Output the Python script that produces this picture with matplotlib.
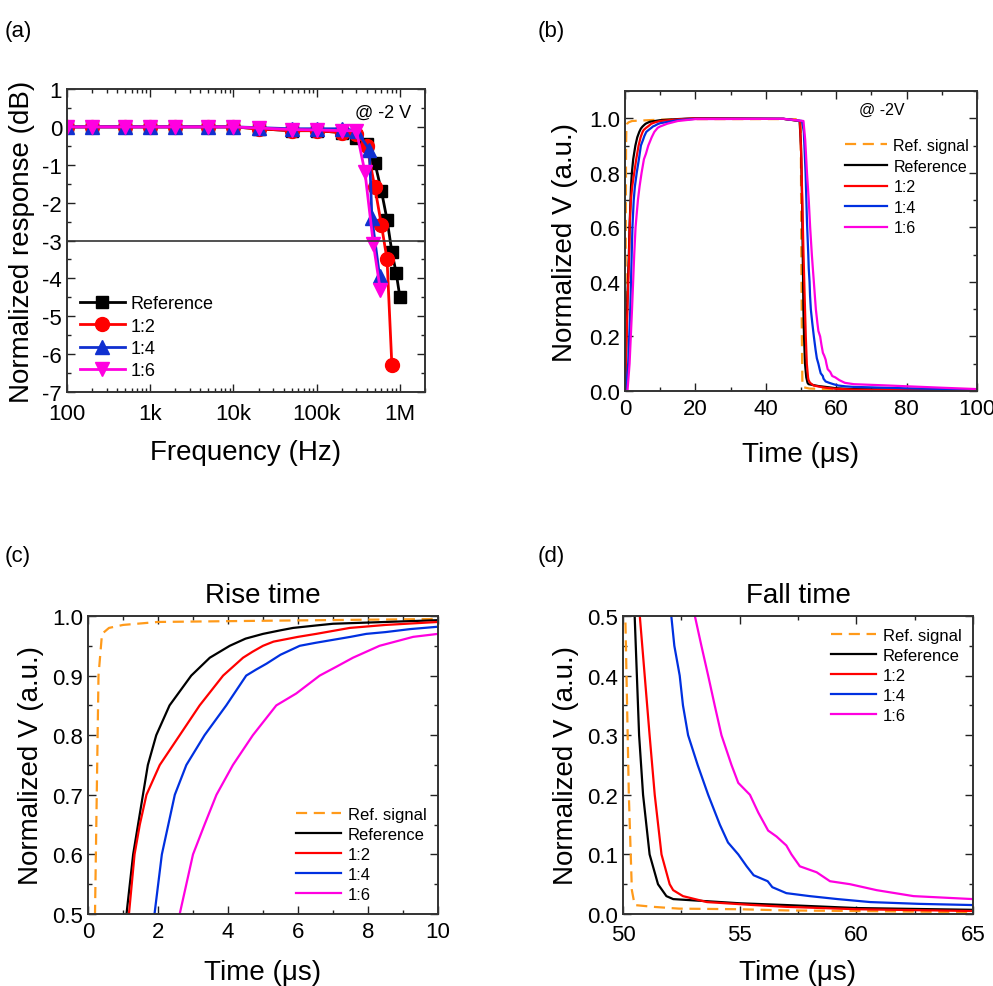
import matplotlib
matplotlib.use("Agg")
import matplotlib.pyplot as plt
from matplotlib.ticker import MultipleLocator, NullFormatter, LogLocator

plt.rcParams['font.family'] = ['Liberation Sans', 'DejaVu Sans']
plt.rcParams['axes.unicode_minus'] = False

# ---------------- data: (a) frequency response ----------------
freq_ref = [100, 200, 500, 1e3, 2e3, 5e3, 1e4, 2e4, 5e4, 1e5, 2e5, 3e5, 4e5, 5e5, 6e5, 7e5, 8e5, 9e5, 1e6]
db_ref = [0.0, 0.0, 0.0, 0.0, 0.0, 0.0, 0.0, -0.05, -0.1, -0.1, -0.15, -0.3, -0.45, -0.95, -1.7, -2.45, -3.3, -3.85, -4.5]

freq_12 = [100, 200, 500, 1e3, 2e3, 5e3, 1e4, 2e4, 5e4, 1e5, 2e5, 3e5, 4e5, 5e5, 6e5, 7e5, 8e5]
db_12 = [0.0, 0.0, 0.0, 0.0, 0.0, 0.0, 0.0, -0.05, -0.1, -0.1, -0.15, -0.2, -0.5, -1.6, -2.6, -3.5, -6.3]

freq_14 = [100, 200, 500, 1e3, 2e3, 5e3, 1e4, 2e4, 5e4, 1e5, 2e5, 3e5, 4.3e5, 4.6e5, 5.7e5]
db_14 = [0.0, 0.0, 0.0, 0.0, 0.0, 0.0, 0.0, -0.02, -0.05, -0.05, -0.05, -0.1, -0.6, -2.4, -3.95]

freq_16 = [100, 200, 500, 1e3, 2e3, 5e3, 1e4, 2e4, 5e4, 1e5, 2e5, 3e5, 3.8e5, 4.8e5, 5.8e5]
db_16 = [0.0, 0.0, 0.0, 0.0, 0.0, 0.0, 0.0, -0.03, -0.07, -0.08, -0.1, -0.1, -1.2, -3.1, -4.3]

freq_ticks = [100, 1e3, 1e4, 1e5, 1e6]
freq_ticklabels = ['100', '1k', '10k', '100k', '1M']

# ---------------- data: (b)-(d) transient response ----------------
t_sig = [0, 0.15, 0.2, 0.3, 0.4, 0.6, 1.0, 2.0, 5.0, 10.0, 20, 49.9, 50.0, 50.1, 50.25, 50.38, 50.5, 51.3, 52.4, 55, 57, 60, 65, 80, 100]
v_sig = [0, 0.2, 0.5, 0.9, 0.97, 0.98, 0.985, 0.99, 0.992, 0.995, 0.997, 0.997, 0.8, 0.5, 0.2, 0.04, 0.015, 0.012, 0.009, 0.008, 0.006, 0.005, 0.003, 0.002, 0.001]

t_ref = [0, 0.3, 0.7, 1.1, 1.29, 1.57, 1.71, 1.95, 2.33, 2.95, 3.48, 4.05, 4.5, 5.0, 5.5, 5.86, 6.5, 7.0, 10, 15, 20, 45, 49.6, 50.0, 50.3, 50.5, 50.69, 50.86, 51.14, 51.5, 51.86, 52.15, 55, 57, 60, 65, 80, 100]
v_ref = [0, 0.15, 0.35, 0.5, 0.6, 0.7, 0.75, 0.8, 0.85, 0.9, 0.93, 0.95, 0.962, 0.97, 0.976, 0.98, 0.984, 0.987, 0.993, 0.997, 1.0, 0.998, 0.99, 0.9, 0.7, 0.5, 0.3, 0.2, 0.1, 0.05, 0.03, 0.025, 0.018, 0.015, 0.01, 0.007, 0.005, 0.003]

t_12 = [0, 0.3, 0.8, 1.17, 1.33, 1.48, 1.67, 2.05, 2.62, 3.19, 3.86, 4.43, 4.7, 5.0, 5.3, 6.0, 6.52, 7.0, 7.48, 8.5, 10, 15, 20, 45, 49.7, 50.1, 50.5, 50.72, 50.93, 51.14, 51.36, 51.65, 52.0, 52.15, 52.57, 53.6, 55.6, 57, 60, 65, 80, 100]
v_12 = [0, 0.12, 0.35, 0.5, 0.6, 0.65, 0.7, 0.75, 0.8, 0.85, 0.9, 0.93, 0.94, 0.95, 0.957, 0.965, 0.97, 0.975, 0.98, 0.985, 0.99, 0.996, 1.0, 0.998, 0.99, 0.85, 0.62, 0.5, 0.4, 0.3, 0.2, 0.1, 0.05, 0.04, 0.03, 0.02, 0.015, 0.012, 0.008, 0.005, 0.003, 0.002]

t_14 = [0, 0.3, 0.9, 1.5, 1.9, 2.11, 2.48, 2.81, 3.33, 3.95, 4.52, 4.8, 5.1, 5.5, 6.05, 6.5, 7.0, 7.5, 7.95, 8.5, 9.2, 10, 15, 20, 45, 50.3, 50.8, 51.3, 51.7, 52.07, 52.2, 52.43, 52.57, 52.79, 53.2, 53.65, 54.15, 54.5, 54.94, 55.3, 55.6, 56.2, 56.4, 57.0, 58.0, 59.2, 60.6, 62.7, 65, 80, 100]
v_14 = [0, 0.0, 0.1, 0.3, 0.5, 0.6, 0.7, 0.75, 0.8, 0.85, 0.9, 0.91, 0.92, 0.935, 0.95, 0.955, 0.96, 0.965, 0.97, 0.973, 0.978, 0.982, 0.993, 0.998, 0.998, 0.99, 0.95, 0.8, 0.62, 0.5, 0.45, 0.4, 0.35, 0.3, 0.25, 0.2, 0.15, 0.12, 0.1, 0.08, 0.065, 0.055, 0.045, 0.035, 0.03, 0.025, 0.02, 0.017, 0.015, 0.01, 0.005]

t_16 = [0, 0.7, 1.3, 2.0, 2.62, 3.0, 3.33, 3.67, 4.14, 4.71, 5.38, 5.95, 6.62, 7.1, 7.57, 8.33, 9.29, 10, 12, 15, 20, 45, 50.7, 51.2, 51.7, 52.2, 52.6, 53.08, 53.36, 53.65, 53.93, 54.22, 54.65, 54.94, 55.44, 55.8, 56.22, 56.58, 57.0, 57.22, 57.58, 58.3, 58.87, 59.73, 60.87, 62.45, 65, 75, 90, 100]
v_16 = [0, 0.0, 0.1, 0.3, 0.5, 0.6, 0.65, 0.7, 0.75, 0.8, 0.85, 0.87, 0.9, 0.915, 0.93, 0.95, 0.965, 0.97, 0.98, 0.99, 0.997, 0.998, 0.99, 0.92, 0.8, 0.7, 0.6, 0.5, 0.45, 0.4, 0.35, 0.3, 0.25, 0.22, 0.2, 0.17, 0.14, 0.13, 0.115, 0.1, 0.08, 0.07, 0.055, 0.05, 0.04, 0.03, 0.025, 0.02, 0.012, 0.007]

labels = ['Ref. signal', 'Reference', '1:2', '1:4', '1:6']
C_ORANGE = '#FF9A1A'
C_BLACK = '#000000'
C_RED = '#FF0000'
C_BLUE = '#0030E0'
C_MAG = '#FF00E0'

W, H = 993, 987
fig = plt.figure(figsize=(W / 100, H / 100), dpi=100)


def axes_px(left, top, right, bottom):
    return fig.add_axes([left / W, 1 - bottom / H, (right - left) / W, (bottom - top) / H])


def style(ax, tick_size=16):
    ax.tick_params(which='both', direction='in', top=True, right=True, labelsize=tick_size, width=1.0, colors='#222222')
    ax.tick_params(which='both', labelcolor='black')
    ax.tick_params(which='major', length=6)
    ax.tick_params(which='minor', length=3)
    ax.tick_params(axis='x', which='major', pad=5)
    for s in ax.spines.values():
        s.set_linewidth(1.4)
        s.set_color('#333333')


# ---------------- (a) ----------------
ax = axes_px(67, 90, 425, 393)
ms = 9
ax.plot(freq_ref, db_ref, '-s', color=C_BLACK, lw=2, ms=ms, label='Reference')
ax.plot(freq_12, db_12, '-o', color=C_RED, lw=2, ms=ms + 1, label='1:2')
ax.plot(freq_14, db_14, '-^', color='#1030D0', lw=2, ms=ms + 1, label='1:4')
ax.plot(freq_16, db_16, '-v', color=C_MAG, lw=2, ms=ms + 1, label='1:6')
ax.axhline(-3, color='#333333', lw=1.2)
ax.set_xscale('log')
ax.set_xlim(100, 2e6)
ax.set_ylim(-7, 1)
ax.set_xticks(freq_ticks, freq_ticklabels)
ax.xaxis.set_minor_locator(LogLocator(base=10, subs=(2, 3, 4, 5, 6, 7, 8, 9), numticks=20))
ax.xaxis.set_minor_formatter(NullFormatter())
ax.yaxis.set_major_locator(MultipleLocator(1))
ax.yaxis.set_minor_locator(MultipleLocator(0.5))
style(ax, 16)
ax.tick_params(axis='x', which='major', pad=8)
ax.set_xlabel('Frequency (Hz)', fontsize=20, labelpad=11)
ax.set_ylabel('Normalized response (dB)', fontsize=20, labelpad=5)
ax.text(0.96, 0.95, '@ -2 V', transform=ax.transAxes, ha='right', va='top', fontsize=13)
ax.legend(loc='lower left', frameon=False, fontsize=13, handlelength=2.5, handletextpad=0.3,
          labelspacing=0.3, borderaxespad=0.3, bbox_to_anchor=(0.0, 0.0))

# ---------------- transient panels ----------------
series = [(t_sig, v_sig, C_ORANGE, '--'), (t_ref, v_ref, C_BLACK, '-'), (t_12, v_12, C_RED, '-'),
          (t_14, v_14, C_BLUE, '-'), (t_16, v_16, C_MAG, '-')]


def draw_series(ax, lw):
    for (t, v, c, ls), lab in zip(series, labels):
        if ls == '--':
            ax.plot(t, v, ls, color=c, lw=lw, label=lab, dashes=(5, 3))
        else:
            ax.plot(t, v, ls, color=c, lw=lw, label=lab)


# (b)
ax = axes_px(625, 92, 977, 392)
draw_series(ax, 1.6)
ax.set_xlim(0, 100)
ax.set_ylim(0, 1.1)
ax.xaxis.set_major_locator(MultipleLocator(20))
ax.xaxis.set_minor_locator(MultipleLocator(10))
ax.set_yticks([0, 0.2, 0.4, 0.6, 0.8, 1.0], ['0.0', '0.2', '0.4', '0.6', '0.8', '1.0'])
ax.yaxis.set_minor_locator(MultipleLocator(0.1))
style(ax, 16)
ax.set_xlabel('Time (μs)', fontsize=20, labelpad=16)
ax.set_ylabel('Normalized V (a.u.)', fontsize=20, labelpad=8)
ax.text(0.665, 0.94, '@ -2V', transform=ax.transAxes, ha='left', va='center', fontsize=11.5)
ax.legend(loc='upper right', frameon=False, fontsize=11.5, handlelength=2.6, handletextpad=0.4,
          labelspacing=0.35, bbox_to_anchor=(1.0, 0.87), borderaxespad=0.1)

# (c)
ax = axes_px(88, 617, 438, 915)
draw_series(ax, 1.6)
ax.set_xlim(0, 10)
ax.set_ylim(0.5, 1.0)
ax.xaxis.set_major_locator(MultipleLocator(2))
ax.xaxis.set_minor_locator(MultipleLocator(1))
ax.set_yticks([0.5, 0.6, 0.7, 0.8, 0.9, 1.0], ['0.5', '0.6', '0.7', '0.8', '0.9', '1.0'])
ax.yaxis.set_minor_locator(MultipleLocator(0.05))
style(ax, 16)
ax.set_title('Rise time', fontsize=20, pad=10)
ax.set_xlabel('Time (μs)', fontsize=20, labelpad=12)
ax.set_ylabel('Normalized V (a.u.)', fontsize=20, labelpad=6)
ax.legend(loc='lower right', frameon=False, fontsize=12, handlelength=2.7, handletextpad=0.4,
          labelspacing=0.3, borderaxespad=0.3)

# (d)
ax = axes_px(623, 617, 973, 915)
draw_series(ax, 1.6)
ax.set_xlim(50, 65)
ax.set_ylim(0, 0.5)
ax.xaxis.set_major_locator(MultipleLocator(5))
ax.xaxis.set_minor_locator(MultipleLocator(2.5))
ax.set_yticks([0, 0.1, 0.2, 0.3, 0.4, 0.5], ['0.0', '0.1', '0.2', '0.3', '0.4', '0.5'])
ax.yaxis.set_minor_locator(MultipleLocator(0.05))
style(ax, 16)
ax.tick_params(axis='x', which='major', pad=7)
ax.set_title('Fall time', fontsize=20, pad=10)
ax.set_xlabel('Time (μs)', fontsize=20, labelpad=10)
ax.set_ylabel('Normalized V (a.u.)', fontsize=20, labelpad=6)
ax.legend(loc='upper right', frameon=False, fontsize=12, handlelength=2.7, handletextpad=0.4,
          labelspacing=0.3, borderaxespad=0.3)

# panel labels
for txt, x, y in [('(a)', 5, 32), ('(b)', 538, 32), ('(c)', 5, 557), ('(d)', 538, 557)]:
    fig.text(x / W, 1 - y / H, txt, fontsize=16, ha='left', va='center')

fig.savefig('out.png', dpi=100)
